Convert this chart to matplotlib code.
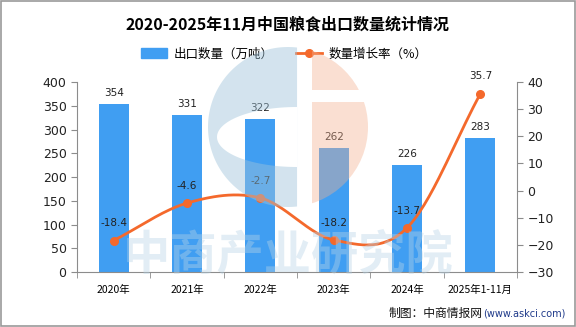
import numpy as np
import matplotlib
matplotlib.use('Agg')
import matplotlib.pyplot as plt
from matplotlib.lines import Line2D
from matplotlib.patches import Rectangle, Patch, PathPatch, Circle
from matplotlib.path import Path
from matplotlib.transforms import IdentityTransform

plt.rcParams['font.family'] = ['Noto Sans CJK SC', 'DejaVu Sans']

years = ['2020年', '2021年', '2022年', '2023年', '2024年', '2025年1-11月']
export_qty = [354, 331, 322, 262, 226, 283]
growth = [-18.4, -4.6, -2.7, -18.2, -13.7, 35.7]

bar_color = '#409EF2'
line_color = '#F4692C'
axis_gray = '#8C8C8C'


def smooth(xs, ys, n=30):
    # catmull-rom spline through the points, only for drawing the curve
    xs = np.asarray(xs, float)
    ys = np.asarray(ys, float)
    px = np.concatenate([[2 * xs[0] - xs[1]], xs, [2 * xs[-1] - xs[-2]]])
    py = np.concatenate([[2 * ys[0] - ys[1]], ys, [2 * ys[-1] - ys[-2]]])
    ox, oy = [], []
    for i in range(1, len(px) - 2):
        t = np.linspace(0, 1, n, endpoint=False)
        for p, out in ((px, ox), (py, oy)):
            p0, p1, p2, p3 = p[i - 1], p[i], p[i + 1], p[i + 2]
            out.extend(0.5 * (2 * p1 + (-p0 + p2) * t + (2 * p0 - 5 * p1 + 4 * p2 - p3) * t ** 2
                              + (-p0 + 3 * p1 - 3 * p2 + p3) * t ** 3))
    ox.append(xs[-1])
    oy.append(ys[-1])
    return np.array(ox), np.array(oy)


fig = plt.figure(figsize=(5.76, 3.27), dpi=100)
fig.patches.append(Rectangle((0.001, 0.002), 0.997, 0.995, transform=fig.transFigure,
                             fill=False, edgecolor='#999999', linewidth=1.2))

ax = fig.add_axes([0.1337, 0.1682, 0.764, 0.581])
ax2 = ax.twinx()

x = np.arange(len(years))

ax.bar(x, export_qty, width=0.41, color=bar_color, zorder=2)
for xi, v in zip(x, export_qty):
    ax.text(xi, v + 12, str(v), ha='center', va='bottom', fontsize=7.5, color='#222222',
            family='DejaVu Sans')

ax.set_xlim(-0.5, len(years) - 0.5)
ax.set_ylim(0, 400)
ax.set_yticks(range(0, 401, 50))
ax.set_xticks(x)
ax.set_xticklabels(years, fontsize=7.5)
ax.set_xticks(np.arange(-0.5, len(years), 1), minor=True)
ax.tick_params(axis='x', which='major', length=0, pad=9)
ax.tick_params(axis='x', which='minor', length=4, color=axis_gray, direction='out')

sx, sy = smooth(x, growth)
ax2.plot(sx, sy, color=line_color, linewidth=2, zorder=3)
ax2.plot(x, growth, 'o', color=line_color, markersize=5.5, zorder=4)
for xi, v in zip(x, growth):
    ax2.text(xi, v + 4.5, f'{v:.1f}', ha='center', va='bottom', fontsize=7.5, color='#222222',
             family='DejaVu Sans')
ax2.set_ylim(-30, 40)
ax2.set_yticks(range(-30, 41, 10))

for a in (ax, ax2):
    a.spines['top'].set_visible(False)
    a.tick_params(axis='y', labelsize=9, colors='#222222', color=axis_gray, length=4)
ax.spines['right'].set_visible(False)
ax.spines['left'].set_color(axis_gray)
ax.spines['bottom'].set_color(axis_gray)
ax2.spines['left'].set_visible(False)
ax2.spines['bottom'].set_visible(False)
ax2.spines['right'].set_color(axis_gray)
for lbl in ax.get_yticklabels() + ax2.get_yticklabels():
    lbl.set_family('DejaVu Sans')
ax.set_zorder(1)
ax2.set_zorder(2)
ax.patch.set_visible(False)

# faint logo watermark, drawn in figure pixels (origin bottom-left)
cx, cy, r = 288, 200, 80
ident = IdentityTransform()
th = np.radians(np.linspace(83.5, 276.5, 120))
outer = np.column_stack([cx + r * np.cos(th), cy + r * np.sin(th)])
ph = np.radians(np.linspace(90, 270, 80))
hole = np.column_stack([297 + 80 * np.cos(ph), 190 + 30 * np.sin(ph)])[::-1]
verts = np.vstack([outer, outer[:1], hole, hole[:1]])
codes = ([Path.MOVETO] + [Path.LINETO] * (len(outer) - 1) + [Path.CLOSEPOLY]
         + [Path.MOVETO] + [Path.LINETO] * (len(hole) - 1) + [Path.CLOSEPOLY])
blue_logo = PathPatch(Path(verts, codes), facecolor='#9EC3DA', edgecolor='none', alpha=0.45,
                      transform=ident, zorder=10)
fig.patches.append(blue_logo)
for y0, y1 in ((cy - r, 225), (237, cy + r)):
    piece = Circle((cx, cy), r, facecolor='#F3B08F', edgecolor='none', alpha=0.4,
                   transform=ident, zorder=10)
    clip = Rectangle((312, y0), 80, y1 - y0, transform=ident)
    piece.set_clip_path(clip)
    fig.patches.append(piece)

fig.text(0.5, 0.22, '中商产业研究院', fontsize=34, fontweight='bold', color='#B8D3E6',
         alpha=0.4, ha='center', va='center', zorder=10)

fig.text(0.5, 0.924, '2020-2025年11月中国粮食出口数量统计情况', ha='center', va='center',
         fontsize=11.5, fontweight='bold')

handles = [Patch(color=bar_color, label='出口数量（万吨）'),
           Line2D([0], [0], color=line_color, linewidth=2, marker='o', markersize=5.5,
                  label='数量增长率（%）')]
fig.legend(handles=handles, loc='center', bbox_to_anchor=(0.493, 0.835), ncol=2, frameon=False,
           fontsize=9, handlelength=2.1, handleheight=0.8, columnspacing=1.8, handletextpad=0.5)

fig.text(0.838, 0.042, '制图：中商情报网', ha='right', va='center', fontsize=8.5, color='#111111')
fig.text(0.982, 0.042, '(www.askci.com)', ha='right', va='center', fontsize=7, color='#1F3A8A',
         family='DejaVu Sans')

fig.savefig('out.png', dpi=100)
